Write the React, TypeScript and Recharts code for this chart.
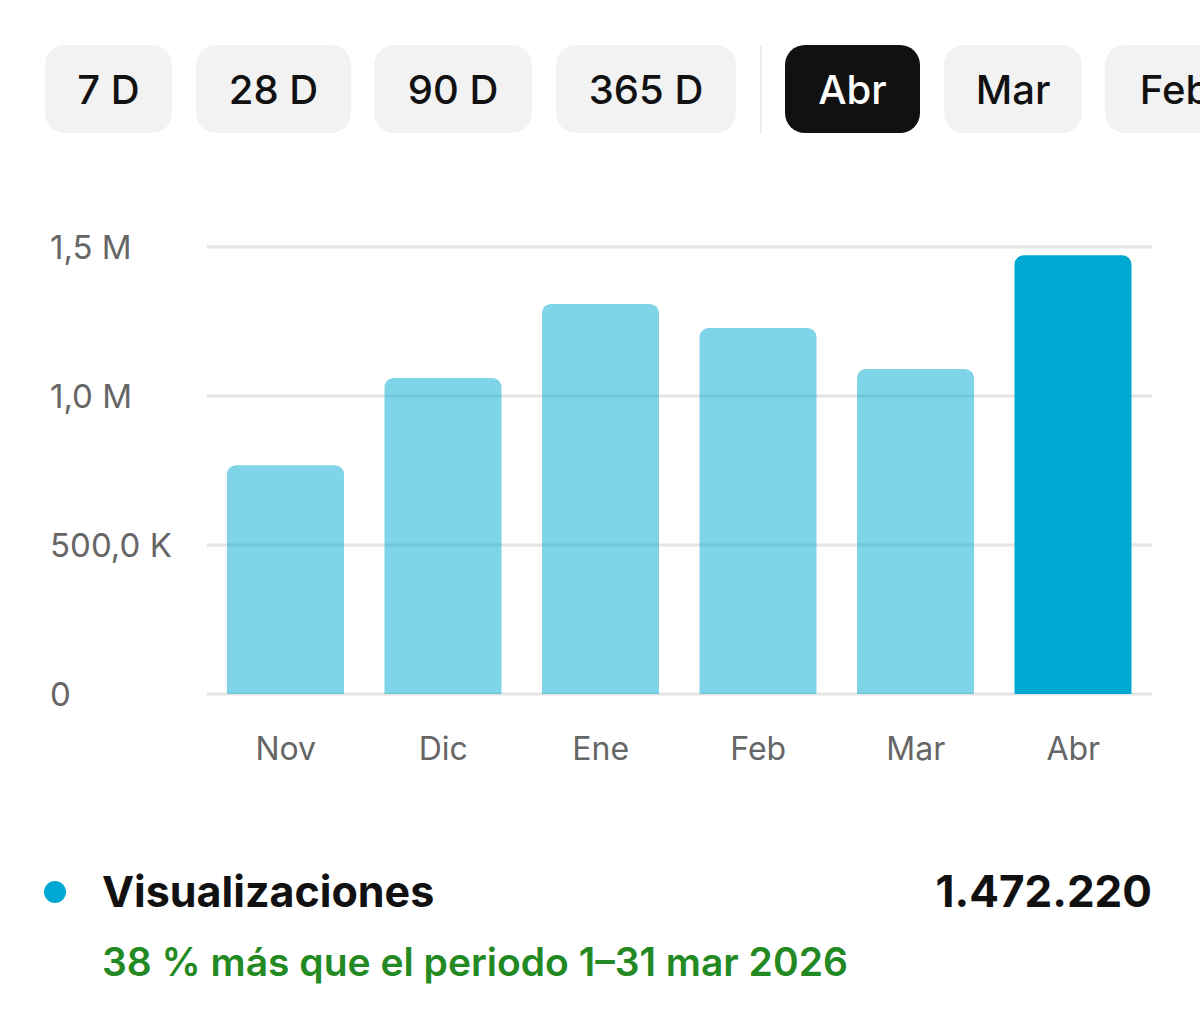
import React from 'react';
import { BarChart, Bar, XAxis, YAxis, CartesianGrid, Cell } from 'recharts';

const months = ['Nov', 'Dic', 'Ene', 'Feb', 'Mar', 'Abr'];
const views = [768000, 1060000, 1309000, 1228000, 1091000, 1472220];
const activeMonth = 'Abr';

const yTicks = [0, 500000, 1000000, 1500000];
const yTickLabels = ['0', '500,0 K', '1,0 M', '1,5 M'];

const rangeButtons = ['7 D', '28 D', '90 D', '365 D'];
const monthButtons = ['Abr', 'Mar', 'Feb'];

const FONT = 'Inter, "Noto Sans", sans-serif';
const BLUE = '#00a9d1';

const data = months.map((m, i) => ({ month: m, views: views[i] }));

const YTick = (props: any) => {
  const idx = yTicks.indexOf(props.payload.value);
  return (
    <text x={50} y={props.y} dominantBaseline="central" textAnchor="start" fill="#666" fontSize={33} fontFamily={FONT}>
      {yTickLabels[idx]}
    </text>
  );
};

const XTick = (props: any) => (
  <text x={props.x} y={props.y} dy={54} dominantBaseline="central" textAnchor="middle" fill="#666" fontSize={32} fontFamily={FONT}>
    {props.payload.value}
  </text>
);

const Pill = ({ label, left, width, active }: { label: string; left: number; width: number; active?: boolean }) => (
  <div
    style={{
      position: 'absolute',
      left,
      top: 45,
      width,
      height: 88,
      borderRadius: 20,
      background: active ? '#111' : '#f2f2f2',
      color: active ? '#fff' : '#111',
      display: 'flex',
      alignItems: 'center',
      justifyContent: 'center',
      fontSize: 40,
      fontWeight: 500,
      fontFamily: FONT,
      whiteSpace: 'nowrap',
    }}
  >
    {label}
  </div>
);

const rangeLefts = [45, 196, 374, 556];
const rangeWidths = [127, 155, 158, 180];
const monthLefts = [785, 944, 1105];
const monthWidths = [135, 138, 140];

export default function App() {
  return (
    <div style={{ position: 'absolute', left: 0, top: 0, width: 1200, height: 1026, overflow: 'hidden', background: '#fff', fontFamily: FONT }}>
      {rangeButtons.map((b, i) => (
        <Pill key={b} label={b} left={rangeLefts[i]} width={rangeWidths[i]} />
      ))}
      <div style={{ position: 'absolute', left: 760, top: 45, width: 2, height: 88, background: '#ececec' }} />
      {monthButtons.map((b, i) => (
        <Pill key={b} label={b} left={monthLefts[i]} width={monthWidths[i]} active={b === activeMonth} />
      ))}

      <div style={{ position: 'absolute', left: 0, top: 200 }}>
        <BarChart width={1200} height={600} data={data} margin={{ top: 47, right: 48, left: 0, bottom: 0 }}>
          <CartesianGrid vertical={false} stroke="#e4e4e4" strokeWidth={3} />
          <XAxis dataKey="month" axisLine={false} tickLine={false} tickSize={0} tickMargin={0} height={106} tick={<XTick />} />
          <YAxis
            width={207}
            domain={[0, 1500000]}
            ticks={yTicks}
            axisLine={false}
            tickLine={false}
            tickSize={0}
            tick={<YTick />}
          />
          <Bar dataKey="views" barSize={117} radius={[9, 9, 0, 0]} isAnimationActive={false}>
            {data.map((d) => (
              <Cell key={d.month} fill={BLUE} fillOpacity={d.month === activeMonth ? 1 : 0.5} />
            ))}
          </Bar>
        </BarChart>
      </div>

      <div style={{ position: 'absolute', left: 44, top: 881, width: 22, height: 22, borderRadius: 11, background: BLUE }} />
      <div style={{ position: 'absolute', left: 102, top: 864, fontSize: 43, fontWeight: 700, color: '#111', lineHeight: '54px' }}>
        Visualizaciones
      </div>
      <div style={{ position: 'absolute', right: 48, top: 864, fontSize: 44, fontWeight: 700, color: '#111', lineHeight: '54px' }}>
        1.472.220
      </div>
      <div style={{ position: 'absolute', left: 102, top: 937, fontSize: 39, fontWeight: 600, color: '#238a23', lineHeight: '50px', whiteSpace: 'nowrap' }}>
        38 % más que el periodo 1–31 mar 2026
      </div>
    </div>
  );
}
